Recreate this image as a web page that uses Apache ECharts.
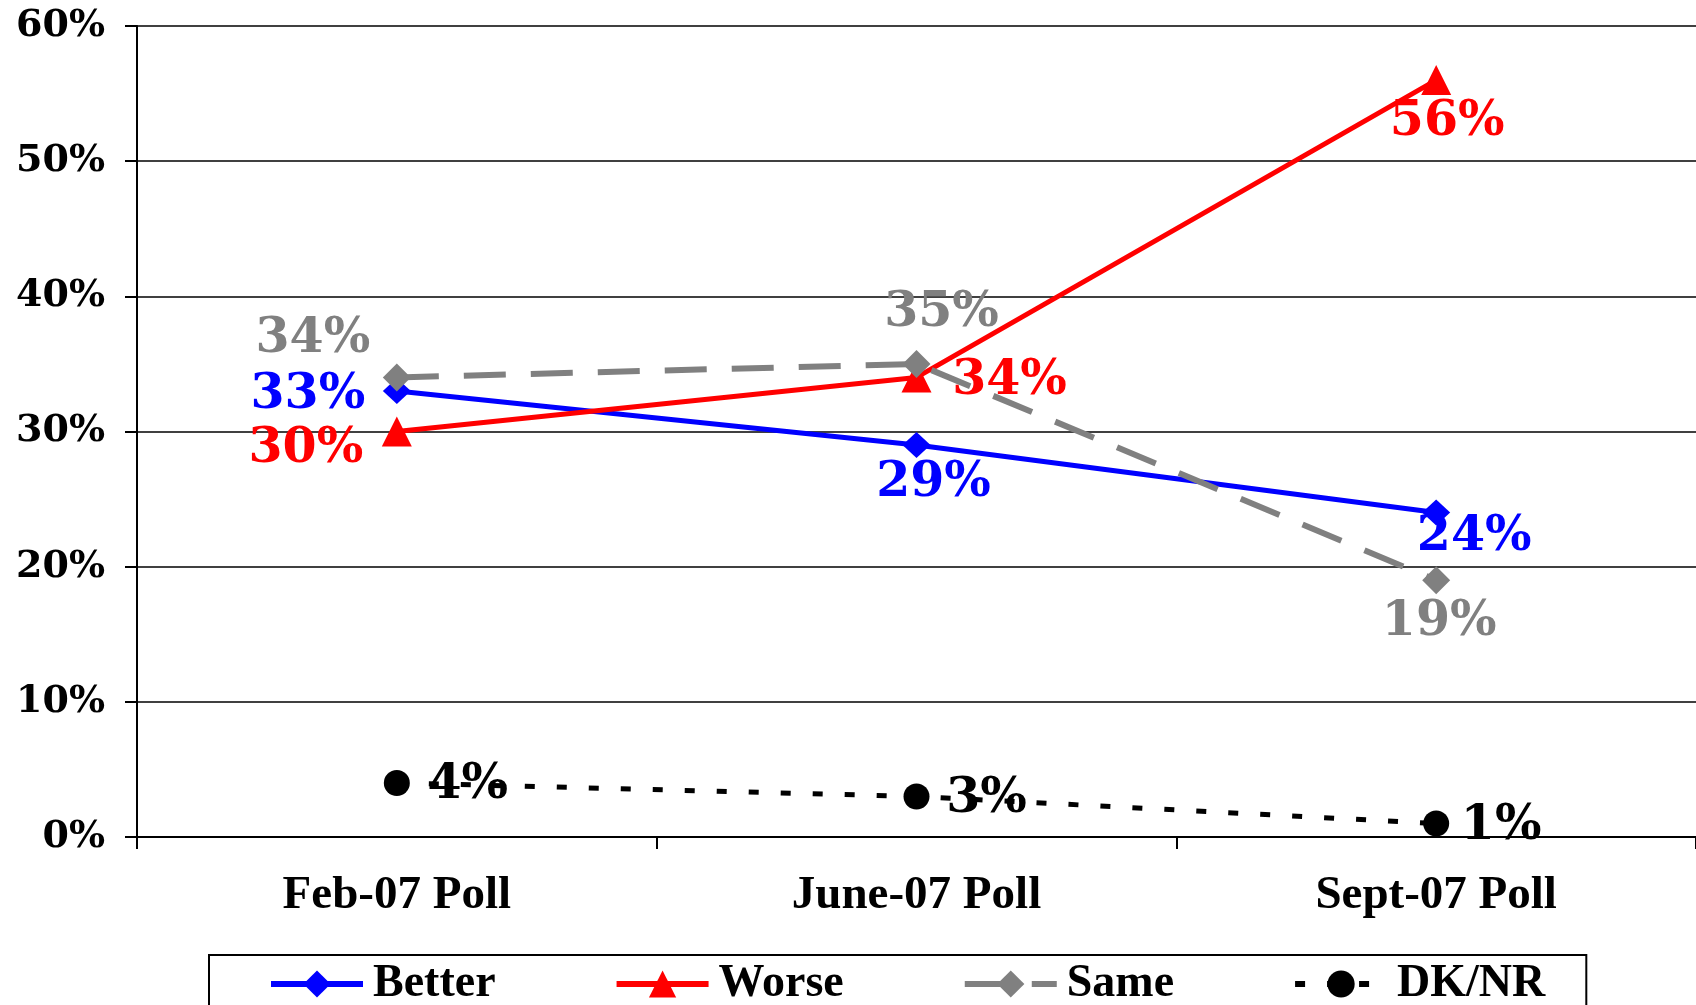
<!DOCTYPE html>
<html>
<head>
<meta charset="utf-8">
<script src="https://cdn.jsdelivr.net/npm/echarts@6/dist/echarts.min.js"></script>
<style>
  html, body { margin: 0; padding: 0; background: #fff; }
  #chart { width: 1696px; height: 1005px; }
</style>
</head>
<body>
<div id="chart"></div>
<script>
let polls = ['Feb-07 Poll', 'June-07 Poll', 'Sept-07 Poll']
let better = [33, 29, 24]
let worse = [30, 34, 56]
let same = [34, 35, 19]
let dknr = [4, 3, 1]

let chart = echarts.init(document.getElementById('chart'))

let labelFont = 'DejaVu Serif'
let textFont = 'Liberation Serif'

// label centre offsets from each point, in px
function points(values, offsets) {
  return values.map(function (v, i) {
    return { value: v, label: { offset: offsets[i] } }
  })
}

function lineSeries(name, values, offsets, color, symbol, size, lineType, width) {
  return {
    name: name,
    type: 'line',
    data: points(values, offsets),
    symbol: symbol,
    symbolSize: size,
    itemStyle: { color: color },
    lineStyle: { color: color, width: width, type: lineType },
    label: {
      show: true,
      position: 'inside',
      formatter: '{c}%',
      color: color,
      fontFamily: labelFont,
      fontWeight: 'bold',
      fontSize: 49
    },
    emphasis: { disabled: true }
  }
}

let option = {
  backgroundColor: '#fff',
  animation: false,
  grid: { left: 137, right: 0, top: 26, bottom: 168 },
  xAxis: {
    type: 'category',
    data: polls,
    boundaryGap: true,
    axisLine: { lineStyle: { color: '#000', width: 2 } },
    axisTick: { show: true, length: 12, lineStyle: { color: '#000', width: 2 } },
    axisLabel: {
      margin: 35,
      color: '#000',
      fontFamily: textFont,
      fontWeight: 'bold',
      fontSize: 47
    }
  },
  yAxis: {
    type: 'value',
    min: 0,
    max: 60,
    interval: 10,
    axisLine: { show: true, lineStyle: { color: '#000', width: 2 } },
    axisTick: { show: true, length: 12, lineStyle: { color: '#000', width: 2 } },
    splitLine: { lineStyle: { color: '#000', width: 1.5 } },
    axisLabel: {
      formatter: '{value}%',
      margin: 32,
      color: '#000',
      fontFamily: labelFont,
      fontWeight: 'bold',
      fontSize: 38
    }
  },
  legend: {
    left: 209,
    top: 955,
    orient: 'horizontal',
    padding: [6, 41, 40, 59],
    itemGap: 118,
    itemWidth: 92,
    itemHeight: 34,
    borderColor: '#000',
    borderWidth: 2,
    lineStyle: { width: 6 },
    textStyle: {
      color: '#000',
      fontFamily: textFont,
      fontWeight: 'bold',
      fontSize: 46,
      padding: [0, 0, 0, 5]
    },
    data: ['Better', 'Worse', 'Same', 'DK/NR']
  },
  series: [
    lineSeries('Better', better, [[-89, 4], [17, 38], [38, 25]], '#0000ff', 'diamond', [28, 26], 'solid', 5),
    lineSeries('Worse', worse, [[-91, 18], [93, 4], [11, 42]], '#ff0000', 'triangle', 30, 'solid', 5),
    lineSeries('Same', same, [[-84, -38], [25, -51], [3, 42]], '#808080', 'diamond', 28, [42, 25], 6),
    lineSeries('DK/NR', dknr, [[71, 2], [70, 3], [65, 3]], '#000000', 'circle', 26, [10, 22], 5)
  ]
}
chart.setOption(option)
</script>
</body>
</html>
